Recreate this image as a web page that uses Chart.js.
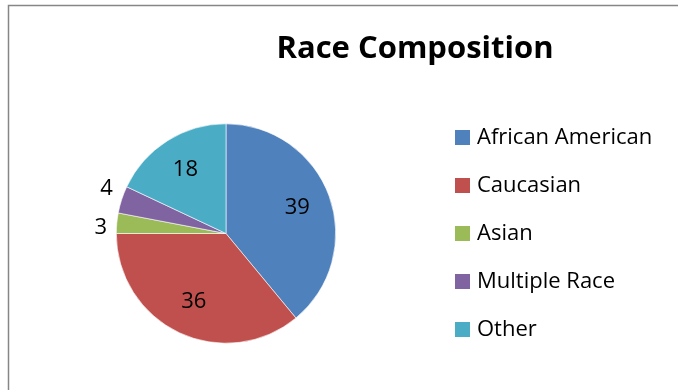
<!DOCTYPE html>
<html>
<head>
<meta charset="utf-8">
<script src="https://cdn.jsdelivr.net/npm/chart.js@4/dist/chart.umd.min.js"></script>
<style>
  html, body { margin: 0; padding: 0; background: #fff; }
  #wrap { width: 678px; height: 390px; }
</style>
</head>
<body>
<div id="wrap"><canvas id="graficoRaca" width="678" height="390"></canvas></div>
<script>
var categorias = ['African American', 'Caucasian', 'Asian', 'Multiple Race', 'Other'];
var valores = [39, 36, 3, 4, 18];
var cores = ['#4F81BD', '#C0504D', '#9BBB59', '#8064A2', '#4BACC6'];
var titulo = 'Race Composition';

var FONTE = '"Open Sans", "Liberation Sans", sans-serif';

// moldura, titulo, rotulos e legenda
var desenhoExtra = {
	id: 'desenhoExtra',
	beforeDraw: function(chart) {
		var ctx = chart.ctx;
		ctx.save();
		ctx.strokeStyle = '#868686';
		ctx.lineWidth = 1.5;
		ctx.beginPath();
		ctx.moveTo(8.5, 390);
		ctx.lineTo(8.5, 5.5);
		ctx.lineTo(678, 5.5);
		ctx.stroke();
		ctx.restore();
	},
	afterDraw: function(chart) {
		var ctx = chart.ctx;
		ctx.save();
		ctx.fillStyle = '#000';
		ctx.textBaseline = 'middle';

		ctx.font = 'bold 31px ' + FONTE;
		ctx.textAlign = 'center';
		ctx.fillText(titulo, 415, 49);

		// rotulos dos valores (fatias pequenas ficam de fora)
		ctx.font = '22px ' + FONTE;
		ctx.textAlign = 'center';
		var arcos = chart.getDatasetMeta(0).data;
		var rotulos = [];
		arcos.forEach(function(arco, i) {
			var meio = (arco.startAngle + arco.endAngle) / 2;
			var fora = valores[i] < 10;
			var r = fora ? arco.outerRadius + 16 : arco.outerRadius * 0.69;
			rotulos.push({
				texto: String(valores[i]),
				fora: fora,
				x: arco.x + Math.cos(meio) * r,
				y: arco.y + Math.sin(meio) * r
			});
		});

		// afasta os rotulos externos que ficam muito juntos
		var externos = rotulos.filter(function(o) { return o.fora; });
		externos.sort(function(a, b) { return a.y - b.y; });
		for (var k = 1; k < externos.length; k++) {
			var a = externos[k - 1], b = externos[k];
			var gap = b.y - a.y;
			if (gap < 39) {
				var extra = (39 - gap) / 2;
				a.y -= extra;
				b.y += extra;
			}
		}

		rotulos.forEach(function(o) {
			ctx.fillText(o.texto, o.x, o.y);
		});

		// legenda
		ctx.font = '22px ' + FONTE;
		ctx.textAlign = 'left';
		categorias.forEach(function(nome, i) {
			var y = 137.5 + i * 48;
			ctx.fillStyle = cores[i];
			ctx.fillRect(455, y - 7.5, 15, 15);
			ctx.fillStyle = '#000';
			ctx.fillText(nome, 477, y);
		});
		ctx.restore();
	}
};

var grafico = new Chart(document.getElementById('graficoRaca'), {
	type: 'pie',
	data: {
		labels: categorias,
		datasets: [{
			data: valores,
			backgroundColor: cores,
			borderColor: '#fff',
			borderWidth: 0.6
		}]
	},
	options: {
		responsive: false,
		animation: false,
		layout: { padding: { left: 116, right: 342, top: 123, bottom: 46 } },
		plugins: {
			legend: { display: false },
			tooltip: { enabled: false }
		}
	},
	plugins: [desenhoExtra]
});
</script>
</body>
</html>
